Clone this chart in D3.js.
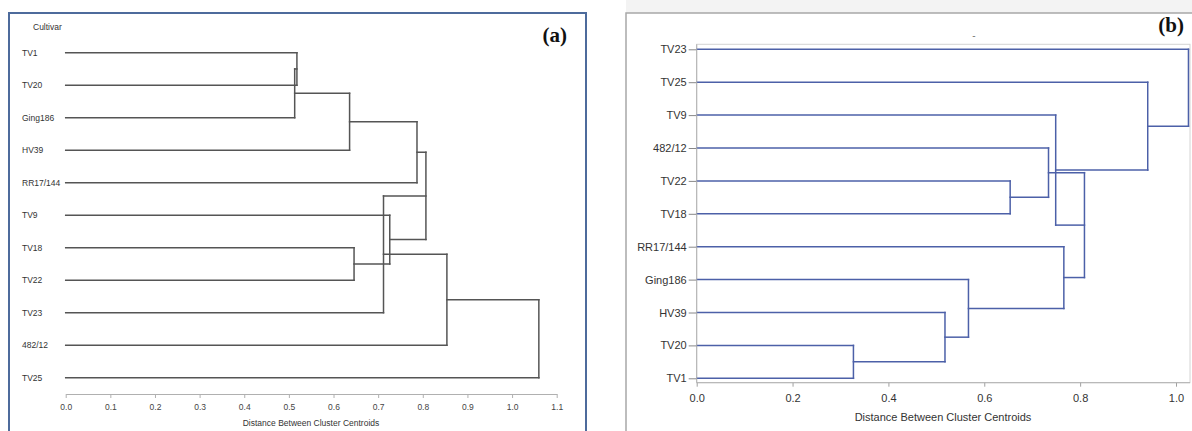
<!DOCTYPE html>
<html>
<head>
<meta charset="utf-8">
<script src="https://cdnjs.cloudflare.com/ajax/libs/d3/7.8.5/d3.min.js"></script>
<style>
  body { margin: 0; background: #fff; }
  svg { display: block; font-family: "Liberation Sans", Arial, sans-serif; }
</style>
</head>
<body>
<svg id="chart"></svg>
<script>
// panel (a): leaf order top to bottom, merges (number = earlier merge), merge distances
var cultivarsA = ["TV1", "TV20", "Ging186", "HV39", "RR17/144", "TV9", "TV18", "TV22", "TV23", "482/12", "TV25"];
var joinsA = [["TV1", "TV20"], [0, "Ging186"], [1, "HV39"], [2, "RR17/144"], ["TV18", "TV22"],
              ["TV9", 4], [3, 5], [6, "TV23"], [7, "482/12"], [8, "TV25"]];
var heightsA = [0.518, 0.513, 0.636, 0.787, 0.646, 0.726, 0.807, 0.712, 0.854, 1.060];
var ticksA = [0, 0.1, 0.2, 0.3, 0.4, 0.5, 0.6, 0.7, 0.8, 0.9, 1.0, 1.1];

// panel (b)
var cultivarsB = ["TV23", "TV25", "TV9", "482/12", "TV22", "TV18", "RR17/144", "Ging186", "HV39", "TV20", "TV1"];
var joinsB = [["TV20", "TV1"], [0, "HV39"], [1, "Ging186"], [2, "RR17/144"], ["TV22", "TV18"],
              ["482/12", 4], [5, 3], ["TV9", 6], ["TV25", 7], ["TV23", 8]];
var heightsB = [0.327, 0.518, 0.567, 0.766, 0.654, 0.734, 0.809, 0.749, 0.941, 1.026];
var ticksB = [0, 0.2, 0.4, 0.6, 0.8, 1.0];

var axisTitle = "Distance Between Cluster Centroids";

var width = 1192, height = 431;
var svg = d3.select('#chart')
            .attr('width', width)
            .attr('height', height);

function dendrogram(g, joins, heights, xScale, yScale, color) {
  var nodes = [];
  var segs = [];
  function get(ref) {
    if (typeof ref === "number") return nodes[ref];
    return { h: 0, y: yScale(ref) };
  }
  joins.forEach(function (j, i) {
    var a = get(j[0]), b = get(j[1]), h = heights[i];
    segs.push([a.h, a.y, h, a.y]);
    segs.push([b.h, b.y, h, b.y]);
    segs.push([h, a.y, h, b.y]);
    nodes.push({ h: h, y: (a.y + b.y) / 2 });
  });
  g.selectAll("line.branch")
   .data(segs)
   .enter()
   .append("line")
   .attr("class", "branch")
   .attr("x1", function (d) { return xScale(d[0]); })
   .attr("y1", function (d) { return d[1]; })
   .attr("x2", function (d) { return xScale(d[2]); })
   .attr("y2", function (d) { return d[3]; })
   .style("stroke", color)
   .style("stroke-width", 1.5)
   .style("stroke-linecap", "square");
}

// ---------- panel (a) ----------
var gA = svg.append('g');
gA.append('rect')
  .attr('x', 9).attr('y', 13)
  .attr('width', 577).attr('height', 440)
  .style('fill', '#fff')
  .style('stroke', '#4d6b9c')
  .style('stroke-width', 2);

var xA = d3.scaleLinear().domain([0, 1.1]).range([65.7, 556.7]);
var yA = d3.scalePoint().domain(cultivarsA).range([52.7, 377.7]);

dendrogram(gA, joinsA, heightsA, xA, yA, '#555');

gA.selectAll('text.leaf')
  .data(cultivarsA)
  .enter()
  .append('text')
  .attr('class', 'leaf')
  .attr('x', 22)
  .attr('y', function (d) { return yA(d); })
  .attr('dy', '0.35em')
  .style('font-size', '8.5px')
  .style('fill', '#333')
  .text(function (d) { return d; });

gA.append('text')
  .attr('x', 33).attr('y', 26.7).attr('dy', '0.35em')
  .style('font-size', '8.5px').style('fill', '#333')
  .text('Cultivar');

var axA = gA.append('g')
  .attr('transform', 'translate(0,394)')
  .call(d3.axisBottom(xA).tickValues(ticksA).tickFormat(d3.format('.1f'))
          .tickSize(4).tickSizeOuter(0).tickPadding(5.7));
axA.select('.domain').style('stroke', '#b0b0b0');
axA.selectAll('.tick line').style('stroke', '#b0b0b0');
axA.selectAll('.tick text').style('font-size', '8.5px').style('fill', '#444')
   .style('font-family', '"Liberation Sans", Arial, sans-serif');

gA.append('text')
  .attr('x', 311).attr('y', 423).attr('dy', '0.35em')
  .attr('text-anchor', 'middle')
  .style('font-size', '8.5px').style('fill', '#333')
  .text(axisTitle);

gA.append('text')
  .attr('x', 567).attr('y', 42)
  .attr('text-anchor', 'end')
  .style('font-family', '"Liberation Serif", "Times New Roman", serif')
  .style('font-weight', 'bold')
  .style('font-size', '21px')
  .style('fill', '#111')
  .text('(a)');

// ---------- panel (b) ----------
var gB = svg.append('g');
gB.append('rect')
  .attr('x', 626).attr('y', 0)
  .attr('width', 580).attr('height', 13)
  .style('fill', '#f3f3f3');
gB.append('rect')
  .attr('x', 626).attr('y', 13)
  .attr('width', 580).attr('height', 440)
  .style('fill', '#fff')
  .style('stroke', '#a8a8a8')
  .style('stroke-width', 1.5);

var xB = d3.scaleLinear().domain([0, 1.0]).range([696.7, 1176]);
var yB = d3.scalePoint().domain(cultivarsB).range([49.3, 378.3]);

// plot frame
gB.append('rect')
  .attr('x', 696.7).attr('y', 44.3)
  .attr('width', 1190 - 696.7).attr('height', 382.7 - 44.3)
  .style('fill', 'none')
  .style('stroke', '#d4d4d4');

dendrogram(gB, joinsB, heightsB, xB, yB, '#4c60a8');

var axBx = gB.append('g')
  .attr('transform', 'translate(0,382.7)')
  .call(d3.axisBottom(xB).tickValues(ticksB).tickFormat(d3.format('.1f'))
          .tickSize(4).tickSizeOuter(0).tickPadding(7.4));
axBx.select('.domain').remove();
axBx.append('line').attr('x1', 696.7).attr('x2', 1190).style('stroke', '#b0b0b0');
axBx.selectAll('.tick line').style('stroke', '#a0a0a0');
axBx.selectAll('.tick text').style('font-size', '11px').style('fill', '#333')
    .style('font-family', '"Liberation Sans", Arial, sans-serif');

var axBy = gB.append('g')
  .attr('transform', 'translate(696.7,0)')
  .call(d3.axisLeft(yB).tickSize(8).tickSizeOuter(0).tickPadding(2));
axBy.select('.domain').remove();
axBy.append('line').attr('y1', 44.3).attr('y2', 382.7).style('stroke', '#b0b0b0');
axBy.selectAll('.tick line').style('stroke', '#888');
axBy.selectAll('.tick text').style('font-size', '11px').style('fill', '#333')
    .style('font-family', '"Liberation Sans", Arial, sans-serif');

gB.append('text')
  .attr('x', 943).attr('y', 416.7).attr('dy', '0.35em')
  .attr('text-anchor', 'middle')
  .style('font-size', '11px').style('fill', '#333')
  .text(axisTitle);

gB.append('text')
  .attr('x', 974).attr('y', 39)
  .attr('text-anchor', 'middle')
  .style('font-size', '10px').style('fill', '#777')
  .text('-');

gB.append('text')
  .attr('x', 1184).attr('y', 32)
  .attr('text-anchor', 'end')
  .style('font-family', '"Liberation Serif", "Times New Roman", serif')
  .style('font-weight', 'bold')
  .style('font-size', '21px')
  .style('fill', '#111')
  .text('(b)');
</script>
</body>
</html>
